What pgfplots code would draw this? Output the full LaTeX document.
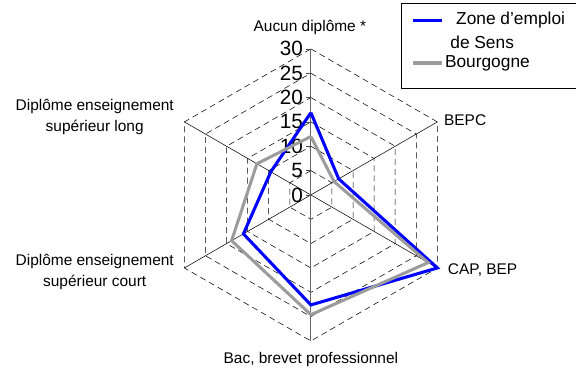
\documentclass[border=0pt]{standalone}
\usepackage{fontspec}
\setmainfont{Liberation Sans}
\usepackage{pgfplots}
\pgfplotsset{compat=1.18}
\definecolor{zoneblue}{HTML}{0000FF}
\definecolor{bourgray}{HTML}{9C9C9C}

\begin{document}
\begin{tikzpicture}
\begin{axis}[
    width=432pt, height=277.5pt,
    scale only axis,
    hide axis,
    xmin=-63.86, xmax=54.41,
    ymin=-35.93, ymax=40.04,
    clip=false,
]
% bounding box of the whole picture
\path (axis cs:-63.86,-35.93) rectangle (axis cs:54.41,40.04);

% dashed hexagon grid
\pgfplotsinvokeforeach{5,10,15,20,25,30}{
  \addplot[black, thin, dash pattern=on 4.5pt off 3pt, data cs=polar, forget plot]
    coordinates {(90,#1) (30,#1) (-30,#1) (-90,#1) (-150,#1) (150,#1) (90,#1)};
}
% spokes
\pgfplotsinvokeforeach{30,-30,-150,150}{
  \addplot[black, thin, data cs=polar, forget plot] coordinates {(0,0) (#1,30)};
}
\addplot[black!60, line width=0.7pt, forget plot] coordinates {(0,-30) (0,30)};

% radial ticks and labels
\pgfplotsinvokeforeach{0,5,10,15,20,25,30}{
  \draw[black!70, thin] (axis cs:-1.0,#1) -- (axis cs:0,#1);
  \node[anchor=east, inner sep=0pt, font=\fontsize{15.5}{16}\selectfont] at (axis cs:-1.6,#1) {#1};
}

% data: Aucun, BEPC, CAP-BEP, Bac, sup. court, sup. long
\addplot[zoneblue, line width=2.3pt, data cs=polar, line join=miter]
  coordinates {(90,16.9) (30,6.6) (-30,30) (-90,22.6) (-150,16) (150,9.5) (90,16.9)};
\addplot[bourgray, line width=2.3pt, data cs=polar, line join=miter]
  coordinates {(90,12) (30,5.5) (-30,27.8) (-90,24.6) (-150,18.8) (150,12.8) (90,12)};

% category labels
\begin{scope}[font=\fontsize{11.6}{15.5}\selectfont]
\node at (axis cs:-0.2,34.3) {Aucun diplôme *};
\node[anchor=west] at (axis cs:26.4,15.3) {BEPC};
\node[anchor=west] at (axis cs:27.2,-15.4) {CAP, BEP};
\node at (axis cs:0,-33.9) {Bac, brevet professionnel};
\node[align=center] at (axis cs:-44.4,16.0) {Diplôme enseignement\\supérieur long};
\node[align=center] at (axis cs:-44.4,-15.8) {Diplôme enseignement\\supérieur court};
\end{scope}

% legend
\draw[black, thin] (axis cs:54.41,39.4) -- (axis cs:18.5,39.4) -- (axis cs:18.5,22.0) -- (axis cs:54.41,22.0);
\draw[zoneblue, line width=2.3pt] (axis cs:21.0,35.9) -- (axis cs:27.0,35.9);
\draw[bourgray, line width=2.3pt] (axis cs:21.0,27.1) -- (axis cs:27.0,27.1);
\begin{scope}[font=\fontsize{13}{14}\selectfont, inner sep=0pt]
\node[anchor=west] at (axis cs:29.8,35.9) {Zone d'emploi};
\node[anchor=west] at (axis cs:28.6,31.3) {de Sens};
\node[anchor=west] at (axis cs:27.5,27.0) {Bourgogne};
\end{scope}
\end{axis}
\end{tikzpicture}
\end{document}
